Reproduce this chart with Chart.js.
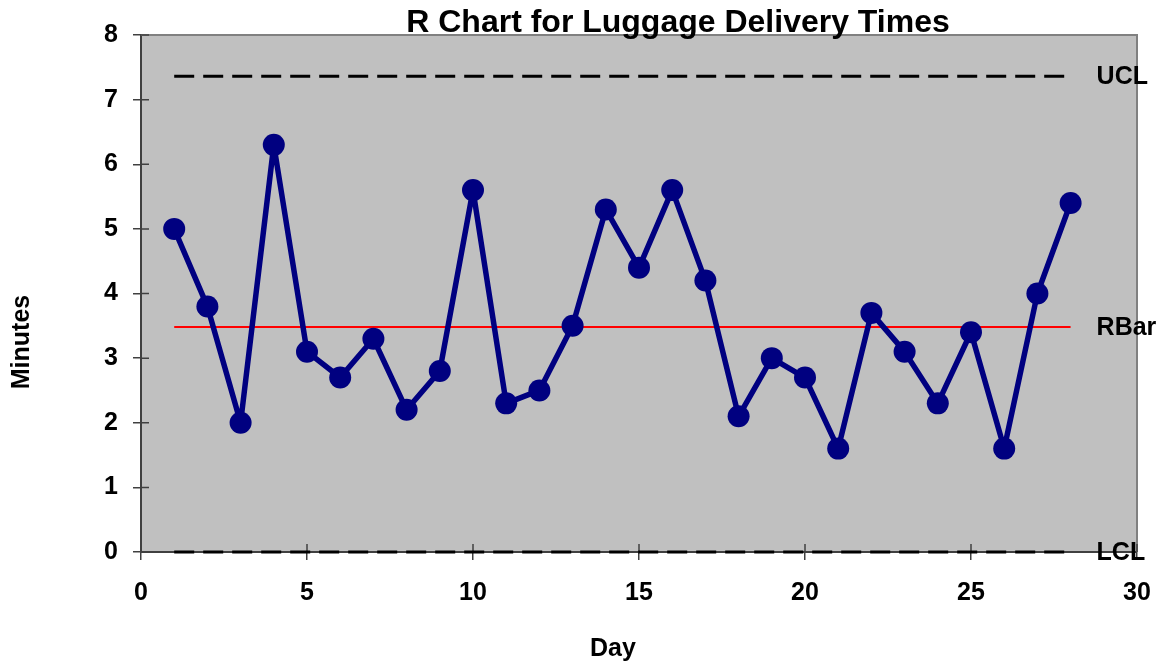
<!DOCTYPE html>
<html>
<head>
<meta charset="utf-8">
<title>R Chart for Luggage Delivery Times</title>
<script src="https://cdn.jsdelivr.net/npm/chart.js@4/dist/chart.umd.min.js"></script>
<style>
  html, body { margin: 0; padding: 0; background: #ffffff; }
  #chartBox { width: 1160px; height: 665px; position: relative; }
</style>
</head>
<body>
<div id="chartBox"><canvas id="rChart"></canvas></div>
<script>
const days = [1, 2, 3, 4, 5, 6, 7, 8, 9, 10, 11, 12, 13, 14, 15, 16, 17, 18, 19, 20, 21, 22, 23, 24, 25, 26, 27, 28];
const ranges = [5.0, 3.8, 2.0, 6.3, 3.1, 2.7, 3.3, 2.2, 2.8, 5.6, 2.3, 2.5, 3.5, 5.3, 4.4, 5.6, 4.2, 2.1, 3.0, 2.7, 1.6, 3.7, 3.1, 2.3, 3.4, 1.6, 4.0, 5.4];
const uclValue = 7.36;
const rBarValue = 3.48;
const lclValue = 0;
const xTicks = [0, 5, 10, 15, 20, 25, 30];
const yTicks = [0, 1, 2, 3, 4, 5, 6, 7, 8];

const rChart = document.getElementById('rChart');
const fontFamily = '"Liberation Sans", Arial, sans-serif';
const axisColor = '#404040';

const firstDay = days[0];
const lastDay = days[days.length - 1];

function limitLine(value) {
  return [{ x: firstDay, y: value }, { x: lastDay, y: value }];
}

// grey plot area, borders, inner tick marks, titles and limit labels
const chartDecor = {
  id: 'chartDecor',
  beforeDraw(chart) {
    const { ctx, chartArea } = chart;
    ctx.save();
    ctx.fillStyle = '#c0c0c0';
    ctx.fillRect(chartArea.left, chartArea.top, chartArea.right - chartArea.left, chartArea.bottom - chartArea.top);
    ctx.restore();
  },
  beforeDatasetsDraw(chart) {
    const { ctx, chartArea, scales } = chart;
    ctx.save();
    ctx.strokeStyle = '#808080';
    ctx.lineWidth = 2;
    ctx.beginPath();
    ctx.moveTo(chartArea.left, chartArea.top);
    ctx.lineTo(chartArea.right, chartArea.top);
    ctx.lineTo(chartArea.right, chartArea.bottom);
    ctx.stroke();

    ctx.strokeStyle = axisColor;
    ctx.lineWidth = 1.5;
    ctx.beginPath();
    yTicks.forEach(v => {
      const y = scales.y.getPixelForValue(v);
      ctx.moveTo(chartArea.left, y);
      ctx.lineTo(chartArea.left + 8, y);
    });
    xTicks.forEach(v => {
      const x = scales.x.getPixelForValue(v);
      ctx.moveTo(x, chartArea.bottom);
      ctx.lineTo(x, chartArea.bottom - 8);
    });
    ctx.stroke();
    ctx.restore();
  },
  afterDraw(chart) {
    const { ctx, scales } = chart;
    ctx.save();
    ctx.fillStyle = '#000000';
    ctx.font = 'bold 32px ' + fontFamily;
    ctx.textAlign = 'center';
    ctx.textBaseline = 'alphabetic';
    ctx.fillText('R Chart for Luggage Delivery Times', 678, 32);

    ctx.font = 'bold 25px ' + fontFamily;
    ctx.textBaseline = 'middle';
    ctx.fillText('Day', 613, 649);

    ctx.save();
    ctx.translate(22, 342);
    ctx.rotate(-Math.PI / 2);
    ctx.fillText('Minutes', 0, 0);
    ctx.restore();

    ctx.textAlign = 'left';
    const labelX = scales.x.getPixelForValue(lastDay) + 26;
    ctx.fillText('UCL', labelX, scales.y.getPixelForValue(uclValue) + 1);
    ctx.fillText('RBar', labelX, scales.y.getPixelForValue(rBarValue) + 1);
    ctx.fillText('LCL', labelX, scales.y.getPixelForValue(lclValue) + 1);
    ctx.restore();
  }
};

const chartData = {
  datasets: [{
    label: 'UCL',
    data: limitLine(uclValue),
    borderColor: '#000000',
    borderWidth: 3,
    borderDash: [20, 9],
    pointRadius: 0,
    showLine: true,
    order: 3
  }, {
    label: 'LCL',
    data: limitLine(lclValue),
    borderColor: '#000000',
    borderWidth: 3,
    borderDash: [20, 9],
    pointRadius: 0,
    showLine: true,
    order: 3
  }, {
    label: 'RBar',
    data: limitLine(rBarValue),
    borderColor: '#ff0000',
    borderWidth: 2,
    pointRadius: 0,
    showLine: true,
    order: 2
  }, {
    label: 'Range',
    data: days.map((day, i) => ({ x: day, y: ranges[i] })),
    borderColor: '#000080',
    backgroundColor: '#000080',
    borderWidth: 5.5,
    borderJoinStyle: 'round',
    pointRadius: 11,
    pointBorderWidth: 0,
    pointBackgroundColor: '#000080',
    showLine: true,
    tension: 0,
    order: 1
  }]
};

const tickFont = { family: fontFamily, size: 25, weight: 'bold' };

const rangeChart = new Chart(rChart, {
  type: 'scatter',
  data: chartData,
  plugins: [chartDecor],
  options: {
    responsive: true,
    maintainAspectRatio: false,
    animation: false,
    clip: false,
    layout: { padding: { top: 35, right: 23, left: 0, bottom: 0 } },
    plugins: {
      legend: { display: false },
      tooltip: { enabled: false }
    },
    scales: {
      x: {
        type: 'linear',
        min: 0,
        max: 30,
        afterBuildTicks: scale => { scale.ticks = xTicks.map(v => ({ value: v })); },
        afterFit: scale => { scale.height = 113; scale.paddingRight = 0; scale.paddingLeft = 0; },
        grid: { drawOnChartArea: false, tickLength: 8, color: axisColor, lineWidth: 1.5 },
        border: { color: axisColor, width: 2 },
        ticks: { font: tickFont, color: '#000000', padding: 18, maxRotation: 0 }
      },
      y: {
        type: 'linear',
        min: 0,
        max: 8,
        afterBuildTicks: scale => { scale.ticks = yTicks.map(v => ({ value: v })); },
        afterFit: scale => { scale.width = 141; scale.paddingTop = 0; scale.paddingBottom = 0; },
        grid: { drawOnChartArea: false, tickLength: 8, color: axisColor, lineWidth: 1.5 },
        border: { color: axisColor, width: 2 },
        ticks: { font: tickFont, color: '#000000', padding: 15 }
      }
    }
  }
});
</script>
</body>
</html>
